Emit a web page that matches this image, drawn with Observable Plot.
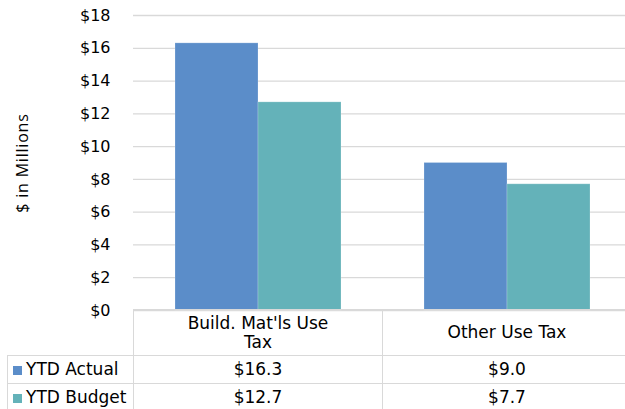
<!DOCTYPE html>
<html><head><meta charset="utf-8">
<script src="https://cdn.jsdelivr.net/npm/d3@7"></script>
<script src="https://cdn.jsdelivr.net/npm/@observablehq/plot@0.6"></script>
<style>
html,body{margin:0;padding:0;background:#fff;overflow:hidden}
#wrap{position:relative;width:625px;height:409px;overflow:hidden;font-family:"DejaVu Sans",Verdana,sans-serif;color:#000}
#chart{position:absolute;left:0;top:0}
#ylabel{position:absolute;left:22px;top:163px;transform:translate(-50%,-50%) rotate(-90deg);white-space:nowrap;font-family:"Open Sans",sans-serif;font-size:16px;letter-spacing:0.8px}
#tbl{position:absolute;left:7px;top:309px;border-collapse:collapse;font-size:17px;table-layout:fixed;width:624px}
#tbl td{border:1px solid #d9d9d9;padding:0;text-align:center;vertical-align:middle;white-space:pre-line;line-height:19px}
#tbl td.corner{border-top:none;border-left:none}
#tbl td.lg{text-align:left;white-space:nowrap}
#tbl .sw{display:inline-block;width:9px;height:9px;margin-left:5px;margin-right:4px;vertical-align:0px}
</style></head>
<body>
<div id="wrap">
  <div id="chart"></div>
  <div id="ylabel">$ in Millions</div>
  <table id="tbl"><colgroup><col style="width:126px"><col style="width:249px"><col style="width:249px"></colgroup><tbody></tbody></table>
</div>
<script>
const categories = ["Build. Mat'ls Use Tax", "Other Use Tax"];
const categoryLabels = ["Build. Mat'ls Use\nTax", "Other Use Tax"];
const series = ["YTD Actual", "YTD Budget"];
const actual = [16.3, 9.0];
const budget = [12.7, 7.7];
const seriesColors = ["#5B8DC9", "#64B2B9"];
const yTicks = [0, 2, 4, 6, 8, 10, 12, 14, 16, 18];

const seriesValues = [actual, budget];
const rows = categories.flatMap((c, i) => series.map((s, j) => ({category: c, series: s, value: seriesValues[j][i]})));

const chart = Plot.plot({
  width: 625, height: 409,
  marginTop: 15, marginBottom: 99, marginLeft: 133, marginRight: -6,
  style: {fontFamily: "DejaVu Sans", fontSize: "16px", color: "#000", background: "transparent", overflow: "visible"},
  fx: {domain: categories, padding: 0, axis: null, label: null},
  x: {domain: series, paddingInner: 0, paddingOuter: 0.5, axis: null},
  y: {domain: [0, 18], ticks: yTicks, tickFormat: d => "$" + d, tickSize: 0, tickPadding: 23, label: null},
  color: {domain: series, range: seriesColors},
  marks: [
    Plot.ruleY(yTicks, {stroke: "#d9d9d9", strokeWidth: 1.3}),
    Plot.barY(rows, {fx: "category", x: "series", y: "value", fill: "series", stroke: "#ffffff", strokeOpacity: 0.2, strokeWidth: 1})
  ]
});
document.getElementById("chart").appendChild(chart);

// data table below the chart
const tbody = document.querySelector("#tbl tbody");
let html = '<tr style="height:46px"><td class="corner"></td>' + categoryLabels.map(l => `<td>${l}</td>`).join("") + '</tr>';
series.forEach((s, j) => {
  html += `<tr style="height:28px"><td class="lg"><span class="sw" style="background:${seriesColors[j]}"></span>${s}</td>` +
    seriesValues[j].map(v => `<td>$${v.toFixed(1)}</td>`).join("") + '</tr>';
});
tbody.innerHTML = html;
</script>
</body></html>
